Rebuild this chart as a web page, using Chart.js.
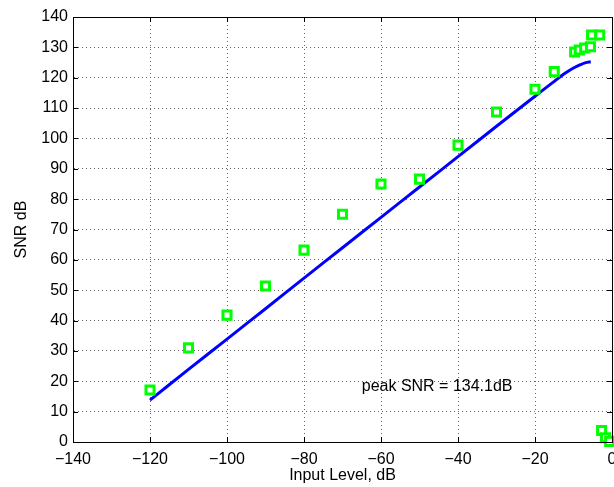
<!DOCTYPE html>
<html>
<head>
<meta charset="utf-8">
<script src="https://cdn.jsdelivr.net/npm/chart.js@4/dist/chart.umd.min.js"></script>
<style>
  html, body { margin: 0; padding: 0; background: #fff; }
</style>
</head>
<body>
<canvas id="snr" width="614" height="487"></canvas>
<script>
// Measured SNR at each input level (square markers)
const measuredLevel = [-120, -110, -100, -90, -80, -70, -60, -50, -40, -30, -20, -15,
                       -9.7, -8.5, -7.1, -5.6, -5.3, -3.2, -2.7, -1.7, -0.6];
const measuredSnr   = [17.1, 31.0, 41.8, 51.4, 63.2, 75.0, 85.0, 86.6, 97.8, 108.7, 116.2, 122.0,
                       128.5, 129.1, 129.8, 130.2, 134.1, 134.1, 3.8, 1.4, 0.2];

// Theoretical SNR curve (solid blue line)
const curveLevel = [-120, -110, -100, -90, -80, -70, -60, -50, -40, -30, -20, -15, -12, -10, -8, -7, -6, -5.5];
const curveSnr   = [13.8, 23.9, 33.9, 43.9, 54.0, 64.0, 74.0, 84.0, 94.0, 104.0, 113.9, 118.8, 121.6, 123.2, 124.4, 124.9, 125.2, 125.2];

// Axis ticks
const xTickValues = [-140, -120, -100, -80, -60, -40, -20, 0];
const yTickValues = [0, 10, 20, 30, 40, 50, 60, 70, 80, 90, 100, 110, 120, 130, 140];

// Annotation text and its anchor in data units
const noteText = 'peak SNR = 134.1dB';
const noteAt = { x: -65, y: 18.4 };

const FONT = 'Liberation Sans, Arial, Helvetica, sans-serif';
const FONT_SIZE = 16;
const minus = v => String(v).replace('-', '\u2212');

// Box around the plot, inward tick marks and the annotation
const framePlugin = {
  id: 'frame',
  afterDatasetsDraw(chart) {
    const { ctx, chartArea: a, scales } = chart;
    ctx.save();
    ctx.strokeStyle = '#000';
    ctx.lineWidth = 1;
    ctx.beginPath();
    const len = 5;
    xTickValues.forEach(v => {
      const px = Math.round(scales.x.getPixelForValue(v)) + 0.5;
      ctx.moveTo(px, a.bottom); ctx.lineTo(px, a.bottom - len);
      ctx.moveTo(px, a.top); ctx.lineTo(px, a.top + len);
    });
    yTickValues.forEach(v => {
      const py = Math.round(scales.y.getPixelForValue(v)) + 0.5;
      ctx.moveTo(a.left, py); ctx.lineTo(a.left + len, py);
      ctx.moveTo(a.right, py); ctx.lineTo(a.right - len, py);
    });
    ctx.stroke();
    ctx.strokeRect(Math.round(a.left) + 0.5, Math.round(a.top) + 0.5,
                   Math.round(a.right - a.left), Math.round(a.bottom - a.top));
    ctx.fillStyle = '#000';
    ctx.font = FONT_SIZE + 'px ' + FONT;
    ctx.textAlign = 'left';
    ctx.textBaseline = 'middle';
    ctx.fillText(noteText, scales.x.getPixelForValue(noteAt.x), scales.y.getPixelForValue(noteAt.y));
    ctx.restore();
  }
};

new Chart(document.getElementById('snr'), {
  type: 'scatter',
  data: {
    datasets: [
      {
        label: 'measured',
        data: measuredLevel.map((x, i) => ({ x, y: measuredSnr[i] })),
        showLine: false,
        pointStyle: 'rect',
        pointRadius: 5.7,
        pointHoverRadius: 5.7,
        pointBorderWidth: 3,
        pointBorderColor: '#00ff00',
        pointBackgroundColor: '#ffffff',
        clip: false,
        order: 0
      },
      {
        label: 'theory',
        data: curveLevel.map((x, i) => ({ x, y: curveSnr[i] })),
        showLine: true,
        borderColor: '#0000ff',
        borderWidth: 3,
        pointRadius: 0,
        tension: 0.3,
        fill: false,
        order: 1
      }
    ]
  },
  options: {
    responsive: false,
    animation: false,
    layout: { autoPadding: false, padding: { top: 17, right: 2, left: 0, bottom: 0 } },
    plugins: { legend: { display: false }, tooltip: { enabled: false } },
    scales: {
      x: {
        type: 'linear',
        min: -140, max: 0,
        afterBuildTicks(s) { s.ticks = xTickValues.map(value => ({ value })); },
        afterFit(s) { s.height = 45; s.paddingLeft = 0; s.paddingRight = 0; },
        ticks: {
          color: '#000',
          font: { family: FONT, size: FONT_SIZE },
          padding: 8,
          maxRotation: 0,
          callback: v => minus(v)
        },
        grid: { color: '#666', lineWidth: 1, drawTicks: false },
        border: { display: true, color: '#000', width: 1, dash: [1, 3] },
        title: {
          display: true, text: 'Input Level, dB', color: '#000',
          font: { family: FONT, size: FONT_SIZE }, padding: { top: 0, bottom: 2 }
        }
      },
      y: {
        type: 'linear',
        min: 0, max: 140,
        afterBuildTicks(s) { s.ticks = yTickValues.map(value => ({ value })); },
        afterFit(s) { s.width = 73; s.paddingTop = 0; s.paddingBottom = 0; },
        ticks: {
          color: '#000',
          font: { family: FONT, size: FONT_SIZE },
          padding: 5,
          callback: v => minus(v)
        },
        grid: { color: '#666', lineWidth: 1, drawTicks: false },
        border: { display: true, color: '#000', width: 1, dash: [1, 3] },
        title: {
          display: true, text: 'SNR dB', color: '#000',
          font: { family: FONT, size: FONT_SIZE }, padding: { top: 12, bottom: 0 }
        }
      }
    }
  },
  plugins: [framePlugin]
});
</script>
</body>
</html>
